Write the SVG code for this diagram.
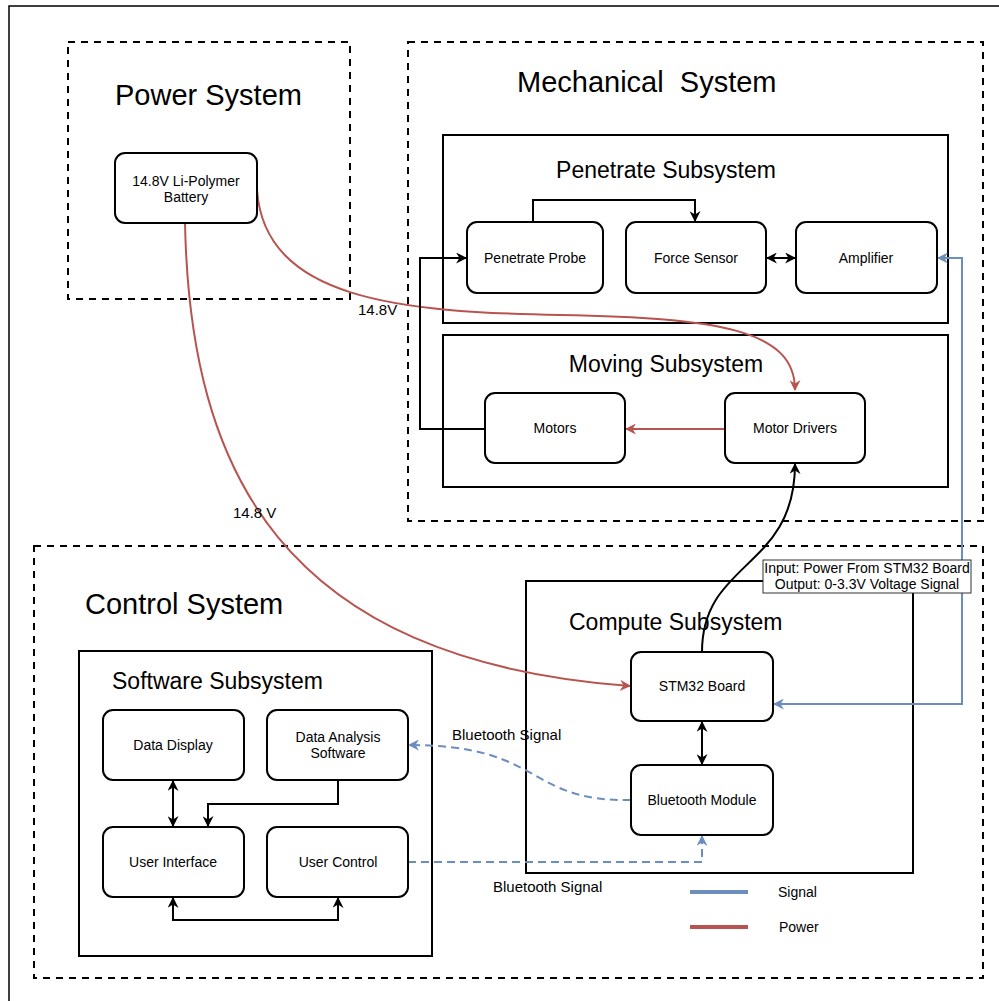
<svg xmlns="http://www.w3.org/2000/svg" width="999" height="1001" viewBox="0 0 999 1001">
<style>
text{font-family:"Liberation Sans",Arial,sans-serif;fill:#000}
.sys{fill:none;stroke:#000;stroke-width:2;stroke-dasharray:7 6}
.sub{fill:#fff;stroke:#000;stroke-width:2}
.node rect{fill:#fff;stroke:#000;stroke-width:2}
.node text{font-size:14px;text-anchor:middle}
.t1{font-size:29px;white-space:pre}
.t2{font-size:23px}
.lbl{font-size:15px}
.blk{fill:none;stroke:#000;stroke-width:2}
.red{fill:none;stroke:#b85450;stroke-width:2}
.blu{fill:none;stroke:#6c8ebf;stroke-width:2}
.dash{stroke-dasharray:8 5}
</style>
<defs>
<marker id="ak" viewBox="0 0 10 10" refX="9" refY="5" markerWidth="11" markerHeight="11" markerUnits="userSpaceOnUse" orient="auto-start-reverse"><path d="M0,0 L10,5 L0,10 L3,5 z" fill="#000"/></marker>
<marker id="ar" viewBox="0 0 10 10" refX="9" refY="5" markerWidth="11" markerHeight="11" markerUnits="userSpaceOnUse" orient="auto-start-reverse"><path d="M0,0 L10,5 L0,10 L3,5 z" fill="#b85450"/></marker>
<marker id="ab" viewBox="0 0 10 10" refX="9" refY="5" markerWidth="11" markerHeight="11" markerUnits="userSpaceOnUse" orient="auto-start-reverse"><path d="M0,0 L10,5 L0,10 L3,5 z" fill="#6c8ebf"/></marker>
</defs>
<rect width="999" height="1001" fill="#fff"/>
<path d="M9,1001 L9,6 L999,6" fill="none" stroke="#000" stroke-width="1.5"/>

<g id="power-system">
<rect class="sys" x="68" y="42" width="282" height="257"/>
<text class="t1" x="115" y="105">Power System</text>
</g>
<g id="mechanical-system">
<rect class="sys" x="408" y="42" width="575" height="479"/>
<text class="t1" x="517" y="92">Mechanical  System</text>
</g>
<g id="control-system">
<rect class="sys" x="34" y="546" width="949" height="432"/>
<text class="t1" x="85" y="614">Control System</text>
</g>
<g id="penetrate-subsystem">
<rect class="sub" x="443" y="135" width="505" height="188"/>
<text class="t2" x="666" y="178" text-anchor="middle">Penetrate Subsystem</text>
</g>
<g id="moving-subsystem">
<rect class="sub" x="443" y="335" width="505" height="152"/>
<text class="t2" x="666" y="372" text-anchor="middle">Moving Subsystem</text>
</g>
<g id="software-subsystem">
<rect class="sub" x="79" y="651" width="353" height="305"/>
<text class="t2" x="112" y="689">Software Subsystem</text>
</g>
<g id="compute-subsystem">
<rect class="sub" x="526" y="581" width="387" height="292"/>
<text class="t2" x="569" y="630">Compute Subsystem</text>
</g>

<g id="connectors">
<path class="red" d="M257,190 C265,300 400,312 560,315 S795,330 795,390" marker-end="url(#ar)"/>
<path class="red" d="M185,223 C190,470 280,660 630,686" marker-end="url(#ar)"/>
<path class="blk" d="M533,222 L533,200 L695,200 L695,221" marker-end="url(#ak)"/>
<path class="blk" d="M767,258 L795,258" marker-start="url(#ak)" marker-end="url(#ak)"/>
<path class="blk" d="M485,429 L420,429 L420,258 L466,258" marker-end="url(#ak)"/>
<path class="red" d="M725,429 L626,429" marker-end="url(#ar)"/>
<path class="blk" d="M702,652 C702,560 795,570 795,464" marker-end="url(#ak)"/>
<path class="blu" d="M938,258 L962,258 L962,704 L774,704" marker-start="url(#ab)" marker-end="url(#ab)"/>
<path class="blk" d="M702,722 L702,764" marker-start="url(#ak)" marker-end="url(#ak)"/>
<path class="blu dash" d="M631,800 C525,802 545,745 409,745" marker-end="url(#ab)"/>
<path class="blu dash" d="M408,862 L702,862 L702,836" marker-end="url(#ab)"/>
<path class="blk" d="M173,781 L173,826" marker-start="url(#ak)" marker-end="url(#ak)"/>
<path class="blk" d="M338,780 L338,804 L208,804 L208,826" marker-end="url(#ak)"/>
<path class="blk" d="M173,898 L173,920 L338,920 L338,898" marker-start="url(#ak)" marker-end="url(#ak)"/>
<text class="lbl" x="358" y="315">14.8V</text>
<text class="lbl" x="233" y="518">14.8 V</text>
<text class="lbl" x="452" y="740">Bluetooth Signal</text>
<text class="lbl" x="493" y="892">Bluetooth Signal</text>
</g>

<g id="battery" class="node"><rect x="115" y="153" width="142" height="70" rx="10"/><text x="186" y="186">14.8V Li-Polymer</text><text x="186" y="202">Battery</text></g>
<g id="penetrate-probe" class="node"><rect x="467" y="222" width="136" height="71" rx="10"/><text x="535" y="263">Penetrate Probe</text></g>
<g id="force-sensor" class="node"><rect x="626" y="222" width="140" height="71" rx="10"/><text x="696" y="263">Force Sensor</text></g>
<g id="amplifier" class="node"><rect x="796" y="222" width="141" height="71" rx="10"/><text x="866" y="263">Amplifier</text></g>
<g id="motors" class="node"><rect x="485" y="393" width="140" height="70" rx="10"/><text x="555" y="433">Motors</text></g>
<g id="motor-drivers" class="node"><rect x="725" y="393" width="140" height="70" rx="10"/><text x="795" y="433">Motor Drivers</text></g>
<g id="data-display" class="node"><rect x="103" y="710" width="141" height="70" rx="10"/><text x="173" y="750">Data Display</text></g>
<g id="data-analysis" class="node"><rect x="267" y="710" width="141" height="70" rx="10"/><text x="338" y="742">Data Analysis</text><text x="338" y="758">Software</text></g>
<g id="user-interface" class="node"><rect x="103" y="827" width="141" height="70" rx="10"/><text x="173" y="867">User Interface</text></g>
<g id="user-control" class="node"><rect x="267" y="827" width="141" height="70" rx="10"/><text x="338" y="867">User Control</text></g>
<g id="stm32" class="node"><rect x="631" y="652" width="142" height="69" rx="10"/><text x="702" y="691">STM32 Board</text></g>
<g id="bluetooth-module" class="node"><rect x="631" y="765" width="142" height="70" rx="10"/><text x="702" y="805">Bluetooth Module</text></g>

<g id="amp-note">
<rect x="763" y="560" width="208" height="33" fill="#fff" stroke="#333" stroke-width="1"/>
<text x="867" y="573" font-size="14" text-anchor="middle">Input: Power From STM32 Board</text>
<text x="867" y="589" font-size="14" text-anchor="middle">Output: 0-3.3V Voltage Signal</text>
</g>

<g id="legend">
<line x1="690" y1="892" x2="748" y2="892" stroke="#6c8ebf" stroke-width="4"/>
<text x="778" y="897" font-size="14">Signal</text>
<line x1="690" y1="927" x2="748" y2="927" stroke="#b85450" stroke-width="4"/>
<text x="779" y="932" font-size="14">Power</text>
</g>
</svg>
